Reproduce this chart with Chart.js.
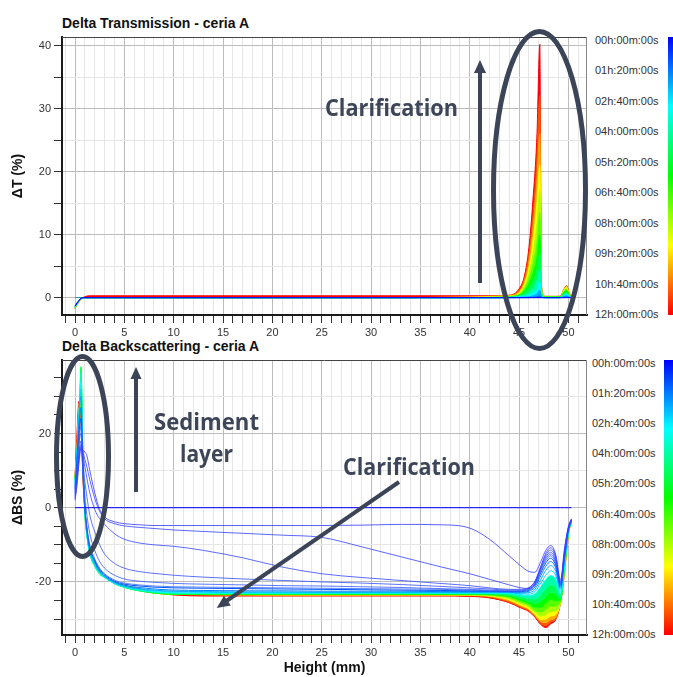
<!DOCTYPE html>
<html>
<head>
<meta charset="utf-8">
<script src="https://cdn.jsdelivr.net/npm/chart.js@4.4.1/dist/chart.umd.min.js"></script>
<style>
  body { margin: 0; background: #fff; }
  #page { position: relative; width: 673px; height: 677px; overflow: hidden; font-family: "Liberation Sans", Arial, sans-serif; }
  .ptitle { position: absolute; left: 62px; font-weight: bold; font-size: 14px; color: #111; white-space: nowrap; }
  .cbar { position: absolute; background: linear-gradient(to bottom, hsl(240,100%,50%), hsl(180,100%,50%), hsl(120,100%,50%), hsl(60,100%,50%), hsl(0,100%,50%)); }
  .cblab { position: absolute; font-size: 11px; line-height: 12px; color: #333; white-space: nowrap; }
  canvas { position: absolute; left: 0; }
  svg { position: absolute; left: 0; top: 0; }
</style>
</head>
<body>
<div id="page">
  <div class="ptitle" style="top:15px">Delta Transmission - ceria A</div>
  <div class="ptitle" style="top:338px">Delta Backscattering - ceria A</div>
  <canvas id="chartT" width="590" height="345" style="top:0"></canvas>
  <canvas id="chartBS" width="590" height="337" style="top:340px"></canvas>
  <div class="cbar" style="left:668px; top:37px; width:6px; height:278px"></div>
  <div class="cbar" style="left:664px; top:360px; width:9px; height:275px"></div>
  <div id="labelsT"></div>
  <div id="labelsBS"></div>
  <svg width="673" height="677">
    <g stroke="#3b4557" fill="none" stroke-width="5">
      <ellipse cx="539.5" cy="190" rx="46" ry="158.5"/>
      <ellipse cx="82.5" cy="456.5" rx="26" ry="100"/>
    </g>
    <g stroke="#3b4557" stroke-width="4">
      <line x1="480" y1="283" x2="480" y2="70"/>
      <line x1="136" y1="492" x2="136" y2="376"/>
      <line x1="399" y1="482" x2="225" y2="602"/>
    </g>
    <g fill="#3b4557">
      <polygon points="480,60 474,73 486,73"/>
      <polygon points="136,367 130.5,379 141.5,379"/>
      <polygon points="216.7,608 230.8,605.5 224,595.7"/>
    </g>
    <g fill="#3d4658" font-family="Open Sans" font-weight="bold" font-size="23">
      <text x="325" y="116" textLength="133" lengthAdjust="spacingAndGlyphs">Clarification</text>
      <text x="343" y="475" textLength="132" lengthAdjust="spacingAndGlyphs">Clarification</text>
      <text x="154" y="430" textLength="105" lengthAdjust="spacingAndGlyphs">Sediment</text>
      <text x="180" y="462" textLength="53" lengthAdjust="spacingAndGlyphs">layer</text>
    </g>
  </svg>
</div>
<script>
// colour scale labels (same for both panels)
const colorbarLabels = ['00h:00m:00s', '01h:20m:00s', '02h:40m:00s', '04h:00m:00s', '05h:20m:00s',
  '06h:40m:00s', '08h:00m:00s', '09h:20m:00s', '10h:40m:00s', '12h:00m:00s'];

// ---- Delta Transmission profiles (height in mm, deltaT in %) ----
const heightT = [0, 0.4, 0.8, 1.5, 5, 10, 20, 30, 40, 42, 43, 44, 44.5, 45, 45.5, 46, 46.4, 46.8, 47.1, 47.25, 47.4, 47.7, 48.2, 48.7, 49.2, 49.5, 49.8, 50.1, 50.4];
const timesT = [0, 1, 2, 3, 4, 5, 6, 7, 8, 9, 10, 11, 12];
const dT_00h = [-1.3, -0.4, 0, 0, 0, 0, 0, 0, 0, 0, 0, 0, 0, 0, 0, 0, 0, 0, 0, 0, 0, 0, 0, 0, 0, 0, 0, 0, 0];
const dT_01h = [-1.4, -0.5, 0, 0, 0, 0, 0, 0, 0, 0, 0, 0, 0, 0, 0, 0, 0.05, 0.1, 0.3, 0.1, 0, 0, 0, 0, 0, 0.05, 0.1, 0.05, 0];
const dT_02h = [-1.4, -0.5, 0, 0, 0, 0, 0, 0, 0, 0, 0, 0, 0, 0.05, 0.1, 0.15, 0.3, 0.6, 1.2, 0.3, 0.05, 0, 0, 0, 0, 0.15, 0.3, 0.1, 0];
const dT_03h = [-1.5, -0.5, 0, 0, 0, 0, 0, 0, 0, 0, 0, 0, 0.05, 0.1, 0.2, 0.35, 0.7, 1.3, 2.5, 0.6, 0.1, 0, 0, 0, 0, 0.3, 0.5, 0.2, 0];
const dT_04h = [-1.5, -0.5, 0, 0, 0, 0, 0, 0, 0, 0, 0, 0.05, 0.1, 0.2, 0.4, 0.8, 1.5, 2.7, 4.5, 0.9, 0.15, 0, 0, 0, 0.05, 0.45, 0.7, 0.25, 0];
const dT_05h = [-1.5, -0.5, 0, 0, 0, 0, 0, 0, 0, 0, 0, 0.1, 0.15, 0.3, 0.7, 1.5, 2.6, 4.3, 7, 1.2, 0.2, 0.05, 0.05, 0.05, 0.1, 0.6, 0.9, 0.3, 0.05];
const dT_06h = [-1.5, -0.5, 0, 0, 0, 0, 0, 0, 0, 0, 0, 0.1, 0.2, 0.4, 1, 2.2, 3.8, 6.2, 10, 1.5, 0.25, 0.1, 0.1, 0.1, 0.15, 0.75, 1.1, 0.35, 0.05];
const dT_07h = [-1.6, -0.5, 0, 0, 0, 0, 0, 0, 0, 0.05, 0.1, 0.15, 0.25, 0.5, 1.3, 3, 5.3, 8.5, 13.5, 1.8, 0.3, 0.15, 0.15, 0.15, 0.15, 0.9, 1.3, 0.4, 0.05];
const dT_08h = [-1.6, -0.6, 0, 0, 0, 0, 0, 0, 0, 0.1, 0.15, 0.2, 0.3, 0.6, 1.6, 3.8, 7, 11.5, 17, 2.1, 0.35, 0.15, 0.15, 0.15, 0.15, 1, 1.5, 0.45, 0.05];
const dT_09h = [-1.6, -0.6, 0, 0, 0, 0, 0, 0, 0.05, 0.15, 0.2, 0.25, 0.35, 0.8, 2, 4.8, 9, 15, 21, 2.4, 0.4, 0.2, 0.2, 0.2, 0.2, 1.1, 1.7, 0.5, 0.1];
const dT_10h = [-1.7, -0.6, 0, 0, 0, 0, 0, 0, 0.1, 0.2, 0.25, 0.3, 0.45, 1, 2.4, 5.8, 11, 18.5, 26, 2.6, 0.45, 0.2, 0.2, 0.2, 0.2, 1.15, 1.8, 0.55, 0.1];
const dT_11h = [-1.7, -0.6, 0, 0, 0, 0, 0, 0, 0.15, 0.25, 0.3, 0.35, 0.5, 1.2, 2.8, 6.9, 13, 22, 32, 2.8, 0.5, 0.2, 0.2, 0.2, 0.2, 1.2, 1.85, 0.6, 0.1];
const dT_12h = [-1.7, -0.6, 0, 0.3, 0.3, 0.3, 0.3, 0.3, 0.3, 0.3, 0.3, 0.4, 0.6, 1.4, 3.2, 8, 15.5, 25.5, 40.2, 3, 0.5, 0.2, 0.2, 0.2, 0.25, 1.2, 1.9, 0.6, 0.1];
const profilesT = [dT_00h, dT_01h, dT_02h, dT_03h, dT_04h, dT_05h, dT_06h, dT_07h, dT_08h, dT_09h, dT_10h, dT_11h, dT_12h];

// ---- Delta Backscattering profiles (height in mm, deltaBS in %) ----
const heightBS = [0, 0.2, 0.4, 0.6, 0.8, 1.0, 1.2, 1.5, 2, 2.5, 3, 4, 5, 6.5, 8, 10, 13, 17, 21, 25, 29, 33, 37, 40, 42, 44, 45, 46, 46.6, 47.2, 47.7, 48.2, 48.7, 49.2, 49.6, 50, 50.3];
const timesBS = [0, 0.1, 0.2, 0.3, 0.4, 0.5, 0.75, 1, 1.5, 2, 2.5, 3, 4, 5, 6, 7, 8, 9, 10, 11, 12];
const dBS_t000 = [0, 0, 0, 0, 0, 0, 0, 0, 0, 0, 0, 0, 0, 0, 0, 0, 0, 0, 0, 0, 0, 0, 0, 0, 0, 0, 0, 0, 0, 0, 0, 0, 0, 0, 0, 0, 0];
const dBS_t010 = [2, 6, 12, 16, 15.5, 15, 14, 10, 4, -0.5, -2.5, -3.8, -4.3, -4.6, -4.8, -4.8, -4.8, -4.8, -4.8, -4.8, -4.7, -4.5, -4.6, -5.5, -8.5, -13, -15.3, -17.2, -17.4, -14.5, -11.5, -10.2, -12.5, -19.5, -11, -5, -3];
const dBS_t020 = [2.5, 7, 13, 16.5, 15, 13, 11, 7.5, 2.5, -1, -3, -4.3, -4.9, -5.3, -5.6, -6, -6.4, -6.9, -7.4, -8, -10.5, -13.2, -15.9, -17.8, -19.3, -20.8, -21.5, -21.8, -20.5, -16, -12.3, -10.8, -13, -20, -11.5, -5.2, -3.1];
const dBS_t030 = [3, 8, 14, 17, 14, 11, 8, 4, -0.5, -3, -4.5, -7, -8.5, -9.5, -10, -10.4, -11.5, -13.5, -16, -17.8, -18.8, -19.6, -20.4, -21, -21.6, -22, -22, -21.5, -19.8, -15.8, -12.8, -11.4, -13.5, -20.3, -12, -5.5, -3.2];
const dBS_t040 = [3.5, 9, 15, 18, 12, 7, 3, -2, -6.5, -10, -12.5, -15, -16.3, -17.2, -17.7, -18.2, -18.7, -19.2, -19.6, -20, -20.3, -20.7, -21.2, -21.6, -21.9, -22.2, -22.2, -21.6, -20, -16.2, -13.3, -12, -14, -20.5, -12.3, -5.6, -3.2];
const dBS_t050 = [4, 10, 17, 20, 10, 3, -2, -7, -11.5, -14.5, -16.3, -18.2, -19.2, -19.8, -20.1, -20.4, -20.6, -20.8, -21, -21.1, -21.3, -21.5, -21.8, -22, -22.2, -22.4, -22.4, -21.8, -20.3, -16.6, -13.8, -12.5, -14.5, -20.7, -12.5, -5.7, -3.3];
const dBS_t075 = [4.5, 11, 18, 22, 9, 0, -5, -10, -13.8, -16.3, -17.8, -19.5, -20.3, -20.8, -21.1, -21.3, -21.4, -21.5, -21.6, -21.7, -21.8, -21.9, -22, -22.2, -22.4, -22.5, -22.5, -22, -20.6, -17, -14.3, -13, -15, -20.9, -12.8, -5.8, -3.3];
const dBS_t100 = [5, 12, 20, 24, 10, 0, -5.5, -10.5, -14.2, -16.6, -18, -19.8, -20.6, -21.1, -21.4, -21.6, -21.7, -21.8, -21.9, -22, -22.1, -22.2, -22.3, -22.4, -22.5, -22.6, -22.6, -22.2, -20.9, -17.5, -14.9, -13.6, -15.5, -21.1, -13.1, -5.9, -3.4];
const dBS_t150 = [5.5, 13, 22, 27, 11, 0, -6, -11, -14.6, -17, -18.3, -20, -20.9, -21.5, -21.9, -22.2, -22.3, -22.4, -22.4, -22.5, -22.5, -22.5, -22.6, -22.6, -22.6, -22.7, -22.8, -22.5, -21.4, -18.3, -15.8, -14.5, -16.2, -21.5, -13.5, -6, -3.5];
const dBS_t200 = [6, 14, 24, 30, 12, -0.5, -6.5, -11.5, -15, -17.3, -18.5, -20.2, -21.1, -21.8, -22.2, -22.5, -22.6, -22.7, -22.7, -22.8, -22.8, -22.8, -22.8, -22.8, -22.8, -22.8, -23, -22.9, -22, -19.3, -16.9, -15.6, -17.1, -22, -14, -6.2, -3.5];
const dBS_t250 = [6.5, 15, 25, 32, 12.5, -1, -7, -12, -15.3, -17.5, -18.6, -20.3, -21.2, -22, -22.4, -22.7, -22.8, -22.9, -22.9, -22.9, -22.9, -22.9, -22.9, -22.9, -22.9, -22.9, -23.2, -23.3, -22.6, -20.3, -18.2, -17, -18.2, -22.6, -14.5, -6.4, -3.6];
const dBS_t300 = [7, 15, 26, 34, 13, -1, -7, -12, -15.5, -17.6, -18.7, -20.4, -21.3, -22.1, -22.6, -22.9, -23, -23, -23, -23, -23, -23, -23, -23, -23, -23, -23.4, -23.7, -23.2, -21.3, -19.4, -18.3, -19.3, -23.1, -15, -6.5, -3.6];
const dBS_t400 = [7, 15, 18, 36.5, 14, -1, -7.5, -12.5, -15.7, -17.8, -18.8, -20.5, -21.4, -22.3, -22.8, -23.1, -23.1, -23.1, -23.1, -23.1, -23.1, -23.1, -23.1, -23.1, -23.1, -23.3, -23.9, -24.5, -24.6, -23.4, -21.8, -20.7, -21.4, -23.9, -15.6, -6.6, -3.7];
const dBS_t500 = [7.5, 15, 19, 38, 14, -1.5, -7.5, -12.5, -15.8, -17.9, -18.8, -20.5, -21.5, -22.4, -22.9, -23.2, -23.2, -23.2, -23.2, -23.2, -23.2, -23.2, -23.2, -23.2, -23.3, -23.6, -24.4, -25.2, -25.8, -25.2, -23.9, -22.8, -23.3, -24.5, -16.1, -6.7, -3.8];
const dBS_t600 = [7.5, 15, 20, 37, 13.5, -1, -7, -12, -15.5, -17.7, -18.7, -20.4, -21.4, -22.4, -23, -23.3, -23.3, -23.3, -23.3, -23.3, -23.3, -23.3, -23.3, -23.3, -23.4, -23.9, -24.8, -25.8, -26.8, -26.8, -25.8, -24.7, -25, -24.9, -16.5, -6.8, -3.8];
const dBS_t700 = [8, 15, 21, 35, 13, -0.5, -7, -12, -15.3, -17.5, -18.7, -20.4, -21.3, -22.3, -23, -23.3, -23.4, -23.4, -23.4, -23.4, -23.4, -23.4, -23.4, -23.4, -23.5, -24.2, -25.2, -26.3, -27.6, -28.1, -27.4, -26.5, -26.5, -25.2, -16.8, -6.8, -3.9];
const dBS_t800 = [8, 13, 23, 32, 12, 0, -6.5, -11.8, -15, -17.4, -18.6, -20.3, -21.2, -22.2, -23, -23.3, -23.4, -23.4, -23.4, -23.4, -23.4, -23.4, -23.4, -23.5, -23.7, -24.5, -25.6, -26.8, -28.2, -29.2, -28.8, -28, -27.8, -25.3, -17, -6.9, -3.9];
const dBS_t900 = [8, 14, 25, 29, 11, 0, -6.3, -11.7, -14.8, -17.2, -18.6, -20.3, -21.1, -22.1, -23, -23.3, -23.4, -23.4, -23.5, -23.5, -23.5, -23.5, -23.5, -23.5, -23.8, -24.8, -26, -27.2, -28.7, -30.1, -30, -29.2, -28.8, -25.4, -17.2, -6.9, -3.9];
const dBS_t1000 = [8, 16, 27, 26.5, 10, -0.5, -6.2, -11.6, -14.7, -17.1, -18.6, -20.3, -21, -22, -22.9, -23.3, -23.4, -23.5, -23.5, -23.5, -23.5, -23.5, -23.5, -23.6, -23.9, -25.1, -26.3, -27.5, -29, -30.7, -31, -30.2, -29.5, -25.5, -17.3, -7, -4];
const dBS_t1100 = [8, 18, 28, 24.5, 9, -1, -6, -11.5, -14.6, -17, -18.6, -20.3, -21, -21.9, -22.9, -23.3, -23.5, -23.6, -23.6, -23.6, -23.6, -23.6, -23.6, -23.7, -24.1, -25.4, -26.6, -27.8, -29.3, -31.2, -31.8, -30.8, -29.9, -25.5, -17.4, -7, -4];
const dBS_t1200 = [8, 20, 28.7, 23, 8, -1, -6, -11.5, -14.5, -17, -18.6, -20.3, -21, -21.8, -22.9, -23.5, -23.8, -23.8, -23.8, -23.8, -23.8, -23.8, -23.8, -23.9, -24.3, -25.6, -26.8, -28, -29.5, -31.5, -32.3, -31.3, -30.2, -25.5, -17.5, -7, -4];
const profilesBS = [dBS_t000, dBS_t010, dBS_t020, dBS_t030, dBS_t040, dBS_t050, dBS_t075, dBS_t100, dBS_t150,
  dBS_t200, dBS_t250, dBS_t300, dBS_t400, dBS_t500, dBS_t600, dBS_t700, dBS_t800, dBS_t900, dBS_t1000, dBS_t1100, dBS_t1200];

const FONT = '"Liberation Sans", Arial, sans-serif';

// time -> rainbow colour, blue at 0h to red at 12h like the colour bar
function timeColor(t, alpha) {
  return `hsla(${240 - 20 * t}, 100%, ${alpha < 1 ? 60 : 50}%, ${alpha})`;
}

function series(heights, values, t, fill, alpha) {
  const c = timeColor(t, alpha);
  return {
    data: heights.map((h, i) => ({x: h, y: values[i]})),
    borderColor: c,
    backgroundColor: c,
    borderWidth: 1,
    pointRadius: 0,
    cubicInterpolationMode: 'monotone',
    fill: fill
  };
}

// thin frame on top / right of the plot area
const frame = {
  id: 'frame',
  afterDraw(chart) {
    const {ctx, chartArea: a} = chart;
    ctx.save();
    ctx.lineWidth = 1;
    ctx.strokeStyle = '#444';
    ctx.beginPath(); ctx.moveTo(a.left, a.top + 0.5); ctx.lineTo(a.right, a.top + 0.5); ctx.stroke();
    ctx.strokeStyle = '#888';
    ctx.beginPath(); ctx.moveTo(a.right - 0.5, a.top); ctx.lineTo(a.right - 0.5, a.bottom); ctx.stroke();
    ctx.restore();
  }
};

function makeOptions(o) {
  return {
    responsive: false,
    animation: false,
    events: [],
    layout: {padding: {top: o.padTop, right: 3, left: 0, bottom: 0}},
    plugins: {legend: {display: false}, tooltip: {enabled: false}},
    scales: {
      x: {
        type: 'linear', min: -1.32, max: 51.88,
        afterFit: s => { s.height = o.xHeight; },
        border: {color: '#1a1a1a', width: 2},
        grid: {
          color: c => (c.tick && c.tick.value % 5 === 0) ? '#bcbcbc' : '#e6e6e6',
          tickColor: '#333', tickLength: 8
        },
        ticks: {
          stepSize: 1, autoSkip: false, maxRotation: 0, includeBounds: false, padding: 3,
          color: '#333', font: {family: FONT, size: 11},
          callback: v => v % 5 === 0 ? String(v) : ''
        },
        title: {display: !!o.xTitle, text: o.xTitle, color: '#111', padding: {top: 0, bottom: 0},
          font: {family: FONT, size: 14, weight: 'bold'}}
      },
      y: {
        type: 'linear', min: o.yMin, max: o.yMax,
        afterFit: s => { s.width = 62; },
        border: {color: '#1a1a1a', width: 2},
        grid: {color: o.yGrid, tickColor: '#333', tickLength: 8},
        ticks: {
          stepSize: 5, autoSkip: false, includeBounds: false, padding: 3,
          color: '#333', font: {family: FONT, size: 11},
          callback: v => v % o.yLabelEvery === 0 ? String(v) : ''
        },
        title: {display: true, text: o.yTitle, color: '#111', padding: {top: 10, bottom: 0},
          font: {family: FONT, size: 14, weight: 'bold'}}
      }
    }
  };
}

new Chart(document.getElementById('chartT'), {
  type: 'line',
  data: {
    datasets: timesT.map((t, i) => series(heightT, profilesT[i], t,
      {target: 'origin', above: timeColor(t, 1), below: 'rgba(0,0,0,0)'}, 1))
  },
  options: makeOptions({
    padTop: 37, xHeight: 30, yMin: -2.75, yMax: 41.38, yLabelEvery: 10, yTitle: 'ΔT (%)', xTitle: '',
    yGrid: c => (c.tick && c.tick.value % 10 === 0) ? '#bcbcbc' : '#e6e6e6'
  }),
  plugins: [frame]
});

// later profiles are shaded against the previous one, the early ones stay as thin lines
new Chart(document.getElementById('chartBS'), {
  type: 'line',
  data: {
    datasets: timesBS.map((t, i) => series(heightBS, profilesBS[i], t,
      t >= 4 ? '-1' : false, (t > 0 && t < 1) ? 0.8 : 1))
  },
  options: makeOptions({
    padTop: 20, xHeight: 42, yMin: -34.3, yMax: 39.8, yLabelEvery: 20, yTitle: 'ΔBS (%)', xTitle: 'Height (mm)',
    yGrid: c => {
      if (!c.tick) return '#e6e6e6';
      if (c.tick.value % 20 === 0) return '#bcbcbc';
      if (c.tick.value % 10 === 0) return '#e6e6e6';
      return 'rgba(0,0,0,0)';
    }
  }),
  plugins: [frame]
});

// colour bar tick labels
function placeLabels(id, left, y0, y1) {
  const box = document.getElementById(id);
  colorbarLabels.forEach((txt, i) => {
    const d = document.createElement('div');
    d.className = 'cblab';
    d.textContent = txt;
    d.style.left = left + 'px';
    d.style.top = (y0 + i * (y1 - y0) / (colorbarLabels.length - 1) - 6) + 'px';
    box.appendChild(d);
  });
}
placeLabels('labelsT', 595, 40, 314);
placeLabels('labelsBS', 592, 363, 634);
</script>
</body>
</html>
